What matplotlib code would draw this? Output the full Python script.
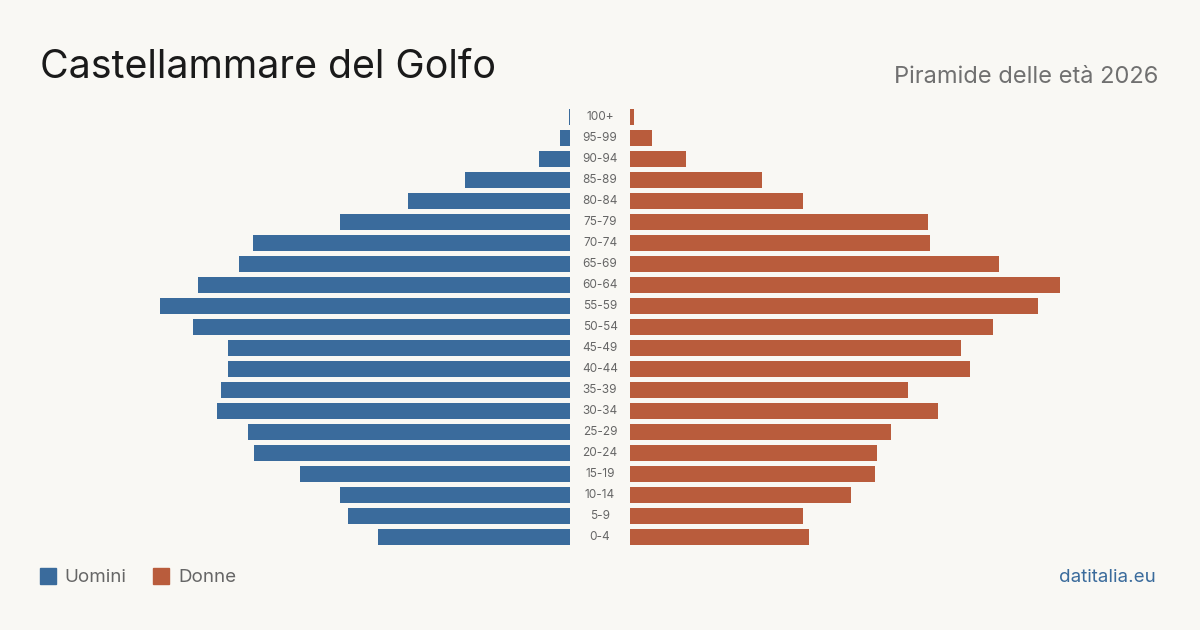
import matplotlib.pyplot as plt

# age classes, top to bottom as in the picture
age_groups = ["100+", "95-99", "90-94", "85-89", "80-84", "75-79", "70-74",
              "65-69", "60-64", "55-59", "50-54", "45-49", "40-44", "35-39",
              "30-34", "25-29", "20-24", "15-19", "10-14", "5-9", "0-4"]
men = [1, 10, 31, 105, 162, 230, 317, 331, 372, 410, 377, 342, 342, 349,
       353, 322, 316, 270, 230, 222, 192]
women = [4, 22, 56, 132, 173, 298, 300, 369, 430, 408, 363, 331, 340, 278,
         308, 261, 247, 245, 221, 173, 179]

BLUE = "#3a6b9c"
RED = "#b95c3c"
BG = "#f9f8f4"

plt.rcParams["font.family"] = ["Inter", "DejaVu Sans"]

W, H = 1200, 630
fig = plt.figure(figsize=(12, 6.3), dpi=100, facecolor=BG)


def px_axes(x0, x1, y0, y1):
    return fig.add_axes([x0 / W, 1 - y1 / H, (x1 - x0) / W, (y1 - y0) / H])


top, bottom = 106.5, 547.5
ax_l = px_axes(40, 570, top, bottom)
ax_r = px_axes(630, 1160, top, bottom)

ypos = list(range(len(age_groups)))
ax_l.barh(ypos, men, height=0.8, color=BLUE)
ax_r.barh(ypos, women, height=0.8, color=RED)

ax_l.set_xlim(530, 0)
ax_r.set_xlim(0, 530)
for ax in (ax_l, ax_r):
    ax.set_ylim(len(age_groups) - 0.5, -0.5)
    ax.axis("off")
    ax.set_facecolor("none")

for i, lab in enumerate(age_groups):
    y = 117 + i * 21
    fig.text(600 / W, 1 - y / H, lab, ha="center", va="center",
             fontsize=8.5, color="#666666")

fig.text(40 / W, 1 - 67 / H, "Castellammare del Golfo", ha="left", va="center",
         fontsize=28.3, color="#1a1a1a")
fig.text(1158 / W, 1 - 77 / H, "Piramide delle età 2026", ha="right",
         va="center", fontsize=17, color="#707070")

# legend
fig.patches.append(plt.Rectangle((40 / W, 1 - 584 / H), 16 / W, 16 / H,
                                 transform=fig.transFigure, color=BLUE))
fig.text(64 / W, 1 - 577 / H, "Uomini", ha="left", va="center",
         fontsize=13.5, color="#666666")
fig.patches.append(plt.Rectangle((153 / W, 1 - 584 / H), 16 / W, 16 / H,
                                 transform=fig.transFigure, color=RED))
fig.text(178 / W, 1 - 577 / H, "Donne", ha="left", va="center",
         fontsize=13.5, color="#666666")

fig.text(1156 / W, 1 - 577 / H, "datitalia.eu", ha="right", va="center",
         fontsize=13.5, color=BLUE)

fig.savefig("out.png", dpi=100, facecolor=BG)
